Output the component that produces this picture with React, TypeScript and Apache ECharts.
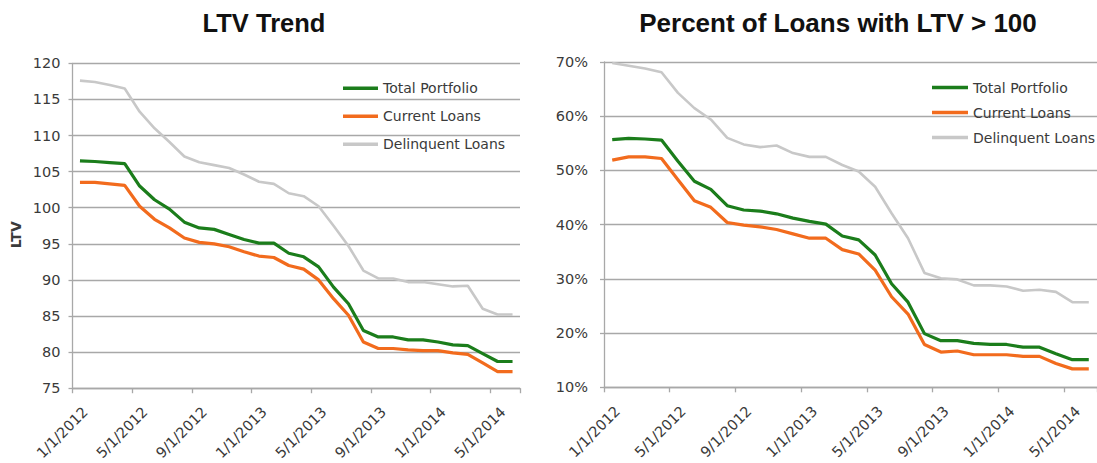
import React, { useEffect, useRef } from "react";
import * as echarts from "echarts";

// Monthly observation dates
const months = [
  "1/1/2012", "2/1/2012", "3/1/2012", "4/1/2012", "5/1/2012", "6/1/2012",
  "7/1/2012", "8/1/2012", "9/1/2012", "10/1/2012", "11/1/2012", "12/1/2012",
  "1/1/2013", "2/1/2013", "3/1/2013", "4/1/2013", "5/1/2013", "6/1/2013",
  "7/1/2013", "8/1/2013", "9/1/2013", "10/1/2013", "11/1/2013", "12/1/2013",
  "1/1/2014", "2/1/2014", "3/1/2014", "4/1/2014", "5/1/2014", "6/1/2014",
];

const seriesNames = ["Total Portfolio", "Current Loans", "Delinquent Loans"];

// Average LTV
const ltvTotal = [106.5, 106.4, 106.25, 106.1, 103.0, 101.1, 99.8, 98.0, 97.2, 97.0, 96.3, 95.6, 95.1, 95.1, 93.7, 93.2, 91.8, 89.0, 86.7, 83.0, 82.1, 82.1, 81.7, 81.7, 81.4, 81.0, 80.9, 79.8, 78.7, 78.7];
const ltvCurrent = [103.5, 103.5, 103.3, 103.1, 100.2, 98.4, 97.2, 95.8, 95.2, 95.0, 94.6, 93.9, 93.3, 93.1, 92.0, 91.5, 90.0, 87.4, 85.1, 81.4, 80.5, 80.5, 80.3, 80.2, 80.2, 79.9, 79.7, 78.5, 77.3, 77.3];
const ltvDelinquent = [117.6, 117.4, 117.0, 116.5, 113.3, 111.0, 109.1, 107.1, 106.3, 105.9, 105.5, 104.6, 103.6, 103.3, 102.0, 101.6, 100.2, 97.5, 94.7, 91.3, 90.2, 90.2, 89.7, 89.7, 89.4, 89.1, 89.2, 86.0, 85.2, 85.2];

// Share of loans with LTV above 100, in percent
const pctTotal = [55.7, 55.9, 55.8, 55.6, 51.7, 48.0, 46.5, 43.5, 42.7, 42.5, 42.0, 41.2, 40.6, 40.1, 37.9, 37.2, 34.4, 29.1, 25.7, 19.9, 18.6, 18.6, 18.1, 17.9, 17.9, 17.4, 17.4, 16.2, 15.1, 15.1];
const pctCurrent = [51.9, 52.5, 52.5, 52.2, 48.3, 44.4, 43.2, 40.4, 39.9, 39.6, 39.1, 38.3, 37.5, 37.5, 35.4, 34.6, 31.6, 26.7, 23.5, 17.9, 16.5, 16.7, 16.0, 16.0, 16.0, 15.7, 15.7, 14.4, 13.4, 13.4];
const pctDelinquent = [69.8, 69.3, 68.8, 68.1, 64.3, 61.5, 59.4, 56.0, 54.8, 54.3, 54.6, 53.2, 52.5, 52.5, 51.0, 49.8, 47.0, 42.1, 37.5, 31.1, 30.1, 29.9, 28.8, 28.8, 28.6, 27.8, 28.0, 27.6, 25.7, 25.7];

const titles = ["LTV Trend", "Percent of Loans with LTV > 100"];

const COLORS = ["#1b7d1b", "#f26b1d", "#c8c8c8"];
const GRID_COLOR = "#a8a8a8";
const LABEL_FONT = "DejaVu Sans";
const TEXT_COLOR = "#3a3a3a";

function xAxisFor(gridIndex: number) {
  return {
    type: "category",
    gridIndex,
    data: months,
    boundaryGap: true,
    axisLine: { show: true, lineStyle: { color: GRID_COLOR, width: 1.3 } },
    axisTick: { show: true, interval: 3, length: 5, lineStyle: { color: GRID_COLOR, width: 1.3 } },
    axisLabel: {
      interval: 3,
      rotate: 45,
      verticalAlign: "top",
      margin: 16,
      fontFamily: LABEL_FONT,
      fontSize: 14.5,
      color: TEXT_COLOR,
    },
    splitLine: { show: false },
  };
}

function yAxisFor(gridIndex: number, min: number, max: number, interval: number, fmt: string, margin: number) {
  return {
    type: "value",
    gridIndex,
    min,
    max,
    interval,
    axisLine: { show: true, lineStyle: { color: GRID_COLOR, width: 1.3 } },
    axisTick: { show: true, length: 4, lineStyle: { color: GRID_COLOR, width: 1.3 } },
    axisLabel: {
      formatter: fmt,
      margin,
      fontFamily: LABEL_FONT,
      fontSize: 14.5,
      color: TEXT_COLOR,
    },
    splitLine: { show: true, lineStyle: { color: GRID_COLOR, width: 1.3 } },
  };
}

function lineSeries(name: string, data: number[], idx: number, color: string) {
  return {
    type: "line",
    name,
    data,
    xAxisIndex: idx,
    yAxisIndex: idx,
    symbol: "none",
    lineStyle: { color, width: name === "Delinquent Loans" ? 2.6 : 3.2 },
    itemStyle: { color },
    z: name === "Delinquent Loans" ? 2 : 3,
  };
}

function legendAt(left: number, top: number, gap: number, itemWidth: number) {
  return {
    orient: "vertical",
    left,
    top,
    padding: 0,
    itemGap: gap,
    itemWidth,
    itemHeight: 3.5,
    icon: "rect",
    data: seriesNames,
    selectedMode: false,
    textStyle: { fontFamily: LABEL_FONT, fontSize: 14, lineHeight: 14, color: TEXT_COLOR },
  };
}

export default function App() {
  const ref = useRef<HTMLDivElement>(null);

  useEffect(() => {
    if (!ref.current) return;
    const chart = echarts.init(ref.current, null, { renderer: "svg" });

    const leftY: any = yAxisFor(0, 75, 120, 5, "{value}", 12);
    leftY.name = "LTV";
    leftY.nameLocation = "middle";
    leftY.nameGap = 50;
    leftY.nameTextStyle = {
      fontFamily: LABEL_FONT,
      fontSize: 14,
      fontWeight: "bold",
      color: TEXT_COLOR,
      padding: [0, 18, 0, 0],
    };

    chart.setOption({
      animation: false,
      backgroundColor: "#ffffff",
      graphic: [
        {
          type: "text",
          x: 264,
          y: 22.5,
          style: {
            text: titles[0],
            align: "center",
            verticalAlign: "middle",
            font: "bold 25.5px 'Liberation Sans', Arial, sans-serif",
            fill: "#111111",
          },
        },
        {
          type: "text",
          x: 838,
          y: 22.5,
          style: {
            text: titles[1],
            align: "center",
            verticalAlign: "middle",
            font: "bold 26px 'Liberation Sans', Arial, sans-serif",
            fill: "#111111",
          },
        },
      ],
      grid: [
        { left: 72.5, top: 63.3, width: 447.5, height: 327.2 },
        { left: 604, top: 62, width: 500, height: 325.3 },
      ],
      xAxis: [xAxisFor(0), xAxisFor(1)],
      yAxis: [leftY, yAxisFor(1, 10, 70, 10, "{value}%", 16)],
      legend: [legendAt(343, 81.3, 14, 35), legendAt(932, 80.5, 11, 36)],
      series: [
        lineSeries(seriesNames[2], ltvDelinquent, 0, COLORS[2]),
        lineSeries(seriesNames[1], ltvCurrent, 0, COLORS[1]),
        lineSeries(seriesNames[0], ltvTotal, 0, COLORS[0]),
        lineSeries(seriesNames[2], pctDelinquent, 1, COLORS[2]),
        lineSeries(seriesNames[1], pctCurrent, 1, COLORS[1]),
        lineSeries(seriesNames[0], pctTotal, 1, COLORS[0]),
      ],
    });

    return () => chart.dispose();
  }, []);

  return (
    <div
      ref={ref}
      style={{ position: "absolute", left: 0, top: 0, width: 1097, height: 463, background: "#fff" }}
    />
  );
}
